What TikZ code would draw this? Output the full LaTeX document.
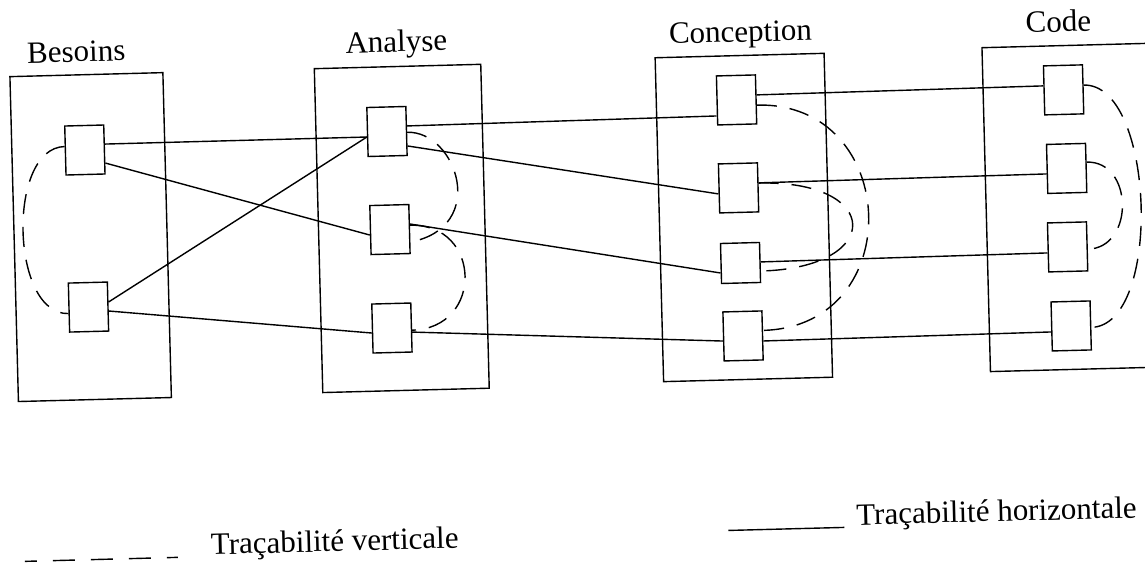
\documentclass[tikz,border=0pt]{standalone}
\usepackage{fontspec}
\setmainfont{Liberation Serif}
\begin{document}
\begin{tikzpicture}[x=1pt,y=-1pt,
  every node/.style={font=\fontsize{31}{36}\selectfont},
  phasebox/.style={draw,line width=1.4pt,inner sep=0pt},
  phasename/.style={anchor=base,inner sep=0pt},
  artefact/.style={draw,fill=white,line width=1.4pt,minimum width=39pt,minimum height=49pt,inner sep=0pt},
  hlink/.style={line width=1.4pt},
  vlink/.style={line width=1.4pt,dash pattern=on 20pt off 13pt}]
\path[use as bounding box] (0,0) rectangle (1145,567);
\clip (0,0) rectangle (1145,567);
\begin{scope}[rotate around={1.5:(572,283)},transform shape]
  % phases
  \node[phasebox,minimum width=153pt,minimum height=325pt] (besoins) at (92,224.5) {};
  \node[phasebox,minimum width=166.5pt,minimum height=324pt] (analyse) at (403.25,224) {};
  \node[phasebox,minimum width=169pt,minimum height=324pt] (conception) at (745.5,222) {};
  \node[phasebox,minimum width=190pt,minimum height=324pt] (code) at (1083,220.5) {};
  \node[phasename] (tBes) at (82.5,49) {Besoins};
  \node[phasename] (tAna) at (402.7,47.4) {Analyse};
  \node[phasename] (tCon) at (747,46.4) {Conception};
  \node[phasename] (tCod) at (1065,44.6) {Code};
  % artefacts
  \node[artefact] (B1) at (88.5,137.3) {};
  \node[artefact] (B2) at (88,294.4) {};
  \node[artefact] (A1) at (391,126.7) {};
  \node[artefact] (A2) at (391.4,224.8) {};
  \node[artefact] (A3) at (390.8,323.3) {};
  \node[artefact] (C1) at (741.3,104.3) {};
  \node[artefact] (C2) at (741,192.3) {};
  \node[artefact,minimum height=40pt] (C3) at (741,267.4) {};
  \node[artefact] (C4) at (741.6,340.4) {};
  \node[artefact] (D1) at (1068.5,102.8) {};
  \node[artefact] (D2) at (1069.5,181.4) {};
  \node[artefact] (D3) at (1068.4,259.9) {};
  \node[artefact] (D4) at (1069.9,339) {};
  % horizontal traceability
  \draw[hlink] ([yshift=5.4pt]B1.east) -- ([yshift=-5pt]A1.west);
  \draw[hlink] ([yshift=-13.6pt]B1.east) -- ([yshift=-5pt]A2.west);
  \draw[hlink] ([yshift=4.5pt]B2.east) -- ([yshift=-5pt]A1.west);
  \draw[hlink] ([yshift=-4.5pt]B2.east) -- ([yshift=-4.5pt]A3.west);
  \draw[hlink] ([yshift=5pt]A1.east) -- ([yshift=-15.5pt]C1.west);
  \draw[hlink] ([yshift=-15pt]A1.east) -- ([yshift=-5.5pt]C2.west);
  \draw[hlink] ([yshift=5pt]A2.east) -- ([yshift=-9.5pt]C3.west);
  \draw[hlink] ([yshift=-4.6pt]A3.east) -- ([yshift=-4.6pt]C4.west);
  \draw[hlink] ([yshift=4.5pt]C1.east) -- ([yshift=4.5pt]D1.west);
  \draw[hlink] ([yshift=4.5pt]C2.east) -- ([yshift=-5pt]D2.west);
  \draw[hlink] ([yshift=0.5pt]C3.east) -- ([yshift=-5.5pt]D3.west);
  \draw[hlink] ([yshift=-5.6pt]C4.east) -- ([yshift=-5.5pt]D4.west);
  % vertical traceability
  \draw[vlink] ([yshift=4pt]B1.west) .. controls +(-58,0) and +(-58,0) .. ([yshift=-6pt]B2.west);
  \draw[vlink] ([yshift=-1.3pt]A1.east) .. controls +(49.5,0) and +(79,-13) .. ([yshift=-13pt]A2.east);
  \draw[vlink] ([yshift=3.8pt]A2.east) .. controls +(72,0) and +(72,0) .. ([yshift=-2.7pt]A3.east);
  \draw[vlink] ([yshift=-5.7pt]C1.east) .. controls +(144,0) and +(146,0) .. ([yshift=5pt]C4.east);
  \draw[vlink] ([yshift=4.3pt]C2.east) .. controls +(124,0) and +(124,0) .. ([yshift=-8.6pt]C3.east);
  \draw[vlink] ([yshift=4.3pt]D1.east) .. controls +(71.5,0) and +(71.5,0) .. ([yshift=-2pt]D4.east);
  \draw[vlink] ([yshift=5.8pt]D2.east) .. controls +(47,0) and +(47,0) .. ([yshift=-2.8pt]D3.east);
  % legend
  \coordinate (vs) at (17.8,547);
  \coordinate (ve) at (170.8,547);
  \draw[line width=1.4pt,dash pattern=on 22pt off 16pt,dash phase=10pt] (vs) -- (ve);
  \node[anchor=base west,inner sep=0pt] (vtext) at (204,545) {Traçabilité verticale};
  \coordinate (hs) at (722,534.5);
  \coordinate (he) at (838,534.5);
  \draw[hlink] (hs) -- (he);
  \node[anchor=base west,inner sep=0pt] (htext) at (850,532.4) {Traçabilité horizontale};
\end{scope}
\end{tikzpicture}
\end{document}
